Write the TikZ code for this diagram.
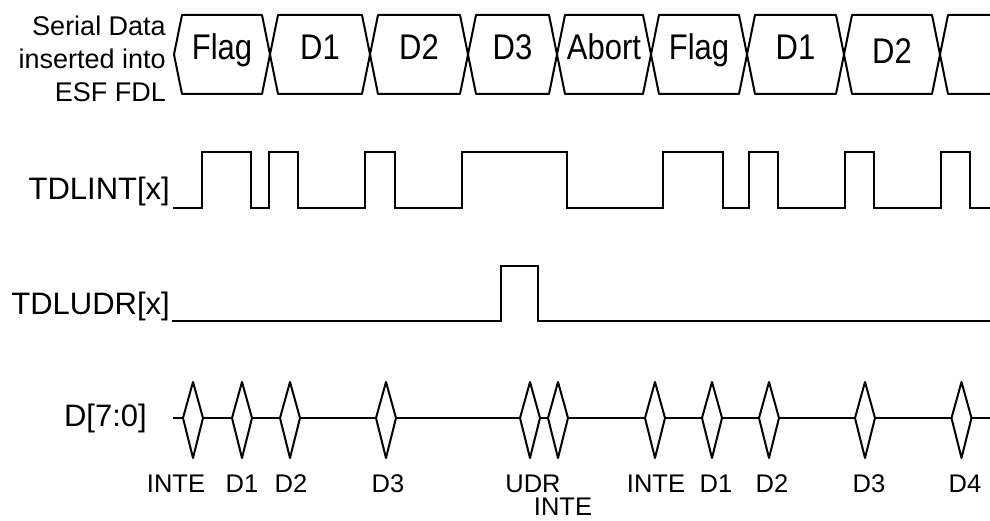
\documentclass[tikz,border=0pt]{standalone}
\usepackage{fontspec}
\setmainfont{Liberation Sans}
\usetikzlibrary{calc}
\tikzset{
  siglabel/.style={anchor=base east,inner sep=0pt,font=\fontsize{31}{34}\selectfont},
  cellname/.style={anchor=base,inner sep=0pt,font=\fontsize{31}{34}\selectfont},
  buslabel/.style={anchor=base,inner sep=0pt,font=\fontsize{25.5}{28}\selectfont},
  wave/.style={line width=2pt,line join=miter},
  cellline/.style={line width=2pt,line join=round},
  busline/.style={line width=2pt,line join=round}
}

\begin{document}
\begin{tikzpicture}[x=1pt,y=1pt]
  \useasboundingbox (0,0) rectangle (990,521);

  \node[anchor=east,align=right,inner sep=0pt,font=\fontsize{27}{33}\selectfont] (serlab) at (166,462)
    {Serial Data\\inserted into\\ESF FDL};
  \foreach \a/\b/\lab/\ty in {174/270/Flag/461,270/370/D1/461,370/468/D2/461,468/557/D3/461,
                              557/651/Abort/461,651/747/Flag/461,747/844/D1/461,844/940/D2/457}
  {
    \draw[cellline] (\a,466.5) -- (\a+8,506) -- (\b-8,506) -- (\b,466.5) -- (\b-8,427) -- (\a+8,427) -- cycle;
    \node[cellname] (cell\a) at ({(\a+\b)/2},\ty) {\scalebox{1}[1.15]{\lab}};
  }
  \draw[cellline] (990,506) -- (948,506) -- (940,466.5) -- (948,427) -- (990,427);

  \node[siglabel] (intlab) at (170,321) {TDLINT[x]};
  \draw[wave] (173,313)
    foreach \r/\f in {202/251,269/298,365/395,462/567,663/723,749/778,845/874,941/970}
    { -| (\r,369) -| (\f,313) } -- (990,313);

  \node[siglabel] (udrlab) at (170,206) {TDLUDR[x]};
  \draw[wave] (172,200) -| (501,255) -| (538,200) -- (990,200);

  \node[siglabel] (buslab) at (147,94) {D[7:0]};
  \draw[busline] (173,103) -- (990,103);
  \foreach \c in {193,242,290,386,530,558,655,712,769,865,961.5}
    \draw[busline,fill=white] (\c-10,103) -- (\c,139) -- (\c+10,103) -- (\c,63) -- cycle;

  \foreach \x/\lab in {176/INTE,242/D1,291/D2,388/D3,533/UDR,656/INTE,716/D1,772/D2,869/D3,965/D4}
    \node[buslabel] (lab\x) at (\x,28) {\lab};
  \node[buslabel] (lab563) at (563,5) {INTE};
\end{tikzpicture}
\end{document}
